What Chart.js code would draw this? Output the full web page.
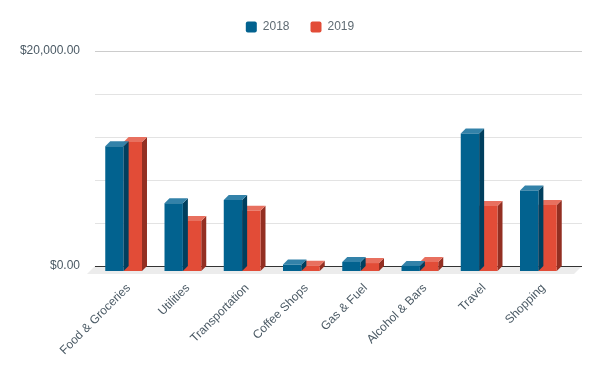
<!DOCTYPE html>
<html lang="en">
<head>
<meta charset="UTF-8">
<title>Spending 2018 vs 2019</title>
<script src="https://cdn.jsdelivr.net/npm/chart.js"></script>
<style>
  body { margin: 0; background: #fff; }
  #wrap { width: 600px; height: 371px; }
</style>
</head>
<body>
<div id="wrap"><canvas id="chart" width="600" height="371"></canvas></div>
<script>
const categories = ['Food & Groceries', 'Utilities', 'Transportation', 'Coffee Shops', 'Gas & Fuel', 'Alcohol & Bars', 'Travel', 'Shopping'];
const spend2018 = [11600, 6300, 6600, 600, 840, 470, 12800, 7500];
const spend2019 = [12000, 4650, 5600, 500, 740, 840, 6050, 6140];
const yLabelValues = [0, 20000];
const yStep = 4000;

const FONT = "'Liberation Sans', Arial, sans-serif";
const DEPTH = 5;
// front / top / side colours for each series
const shades = [
  { front: '#02628f', top: '#3382a9', side: '#003f5e' },
  { front: '#e24c37', top: '#e8705f', side: '#932f22' }
];

// legend takes a fixed strip so the plot starts at y = 51
const legendStrip = {
  id: 'legendStrip',
  beforeInit(chart) {
    const fit = chart.legend.fit;
    chart.legend.fit = function () {
      fit.call(this);
      this.height = 51;
    };
  }
};

// floor, grid lines and base line, drawn on the back plane
const backPlane = {
  id: 'backPlane',
  beforeDatasetsDraw(chart) {
    const ctx = chart.ctx;
    const y = chart.scales.y;
    const left = 95, right = 582;
    const base = Math.round(y.getPixelForValue(0));
    ctx.save();
    ctx.fillStyle = '#ececec';
    ctx.beginPath();
    ctx.moveTo(left, base);
    ctx.lineTo(right, base);
    ctx.lineTo(right - 8, base + 8);
    ctx.lineTo(left - 8, base + 8);
    ctx.closePath();
    ctx.fill();
    ctx.lineWidth = 1;
    for (let v = yStep; v <= 20000; v += yStep) {
      const py = Math.round(y.getPixelForValue(v)) + 0.5;
      ctx.strokeStyle = v === 20000 ? '#cccccc' : '#e3e3e3';
      ctx.beginPath();
      ctx.moveTo(left, py);
      ctx.lineTo(right, py);
      ctx.stroke();
    }
    ctx.strokeStyle = '#333333';
    ctx.beginPath();
    ctx.moveTo(left, base + 0.5);
    ctx.lineTo(right, base + 0.5);
    ctx.stroke();
    ctx.restore();
  }
};

// top and side faces, then the front face shifted forward
const bars3d = {
  id: 'bars3d',
  beforeDatasetDraw(chart, args) {
    const ctx = chart.ctx;
    const c = shades[args.index];
    ctx.save();
    args.meta.data.forEach(el => {
      const l = el.x - el.width / 2, r = el.x + el.width / 2;
      const top = el.y, base = el.base;
      ctx.fillStyle = c.side;
      ctx.beginPath();
      ctx.moveTo(r - DEPTH, top + DEPTH);
      ctx.lineTo(r, top);
      ctx.lineTo(r, base);
      ctx.lineTo(r - DEPTH, base + DEPTH);
      ctx.closePath();
      ctx.fill();
      ctx.fillStyle = c.top;
      ctx.beginPath();
      ctx.moveTo(l - DEPTH, top + DEPTH);
      ctx.lineTo(r - DEPTH, top + DEPTH);
      ctx.lineTo(r, top);
      ctx.lineTo(l, top);
      ctx.closePath();
      ctx.fill();
    });
    ctx.translate(-DEPTH, DEPTH);
  },
  afterDatasetDraw(chart) {
    chart.ctx.restore();
  }
};

new Chart(document.getElementById('chart'), {
  type: 'bar',
  data: {
    labels: categories,
    datasets: [
      { label: '2018', data: spend2018, backgroundColor: shades[0].front, clip: false },
      { label: '2019', data: spend2019, backgroundColor: shades[1].front, clip: false }
    ]
  },
  options: {
    responsive: false,
    animation: false,
    layout: { padding: 0 },
    datasets: { bar: { categoryPercentage: 0.62, barPercentage: 1, borderWidth: 0 } },
    plugins: {
      tooltip: { enabled: false },
      legend: {
        position: 'top',
        labels: {
          boxWidth: 11, boxHeight: 11, padding: 21,
          useBorderRadius: true, borderRadius: 2,
          color: '#5f6b73',
          font: { family: FONT, size: 12 }
        }
      }
    },
    scales: {
      x: {
        grid: { display: false, drawTicks: false },
        border: { display: false },
        ticks: {
          autoSkip: false, maxRotation: 45, minRotation: 45, padding: 15,
          color: '#4a5964', font: { family: FONT, size: 12 }
        },
        afterFit(scale) { scale.height = 105; }
      },
      y: {
        min: 0, max: 20000,
        grid: { display: false, drawTicks: false },
        border: { display: false },
        ticks: {
          stepSize: yStep, padding: 19,
          color: '#4a5964', font: { family: FONT, size: 12 },
          callback: v => yLabelValues.includes(v)
            ? '$' + v.toLocaleString('en-US', { minimumFractionDigits: 2, maximumFractionDigits: 2 })
            : ''
        },
        afterFit(scale) { scale.width = 99; }
      },
      // empty strip on the right, keeps the legend centred on the page
      yRight: {
        position: 'right',
        grid: { display: false, drawTicks: false },
        border: { display: false },
        ticks: { display: false },
        afterFit(scale) { scale.width = 27; }
      }
    }
  },
  plugins: [legendStrip, backPlane, bars3d]
});
</script>
</body>
</html>
